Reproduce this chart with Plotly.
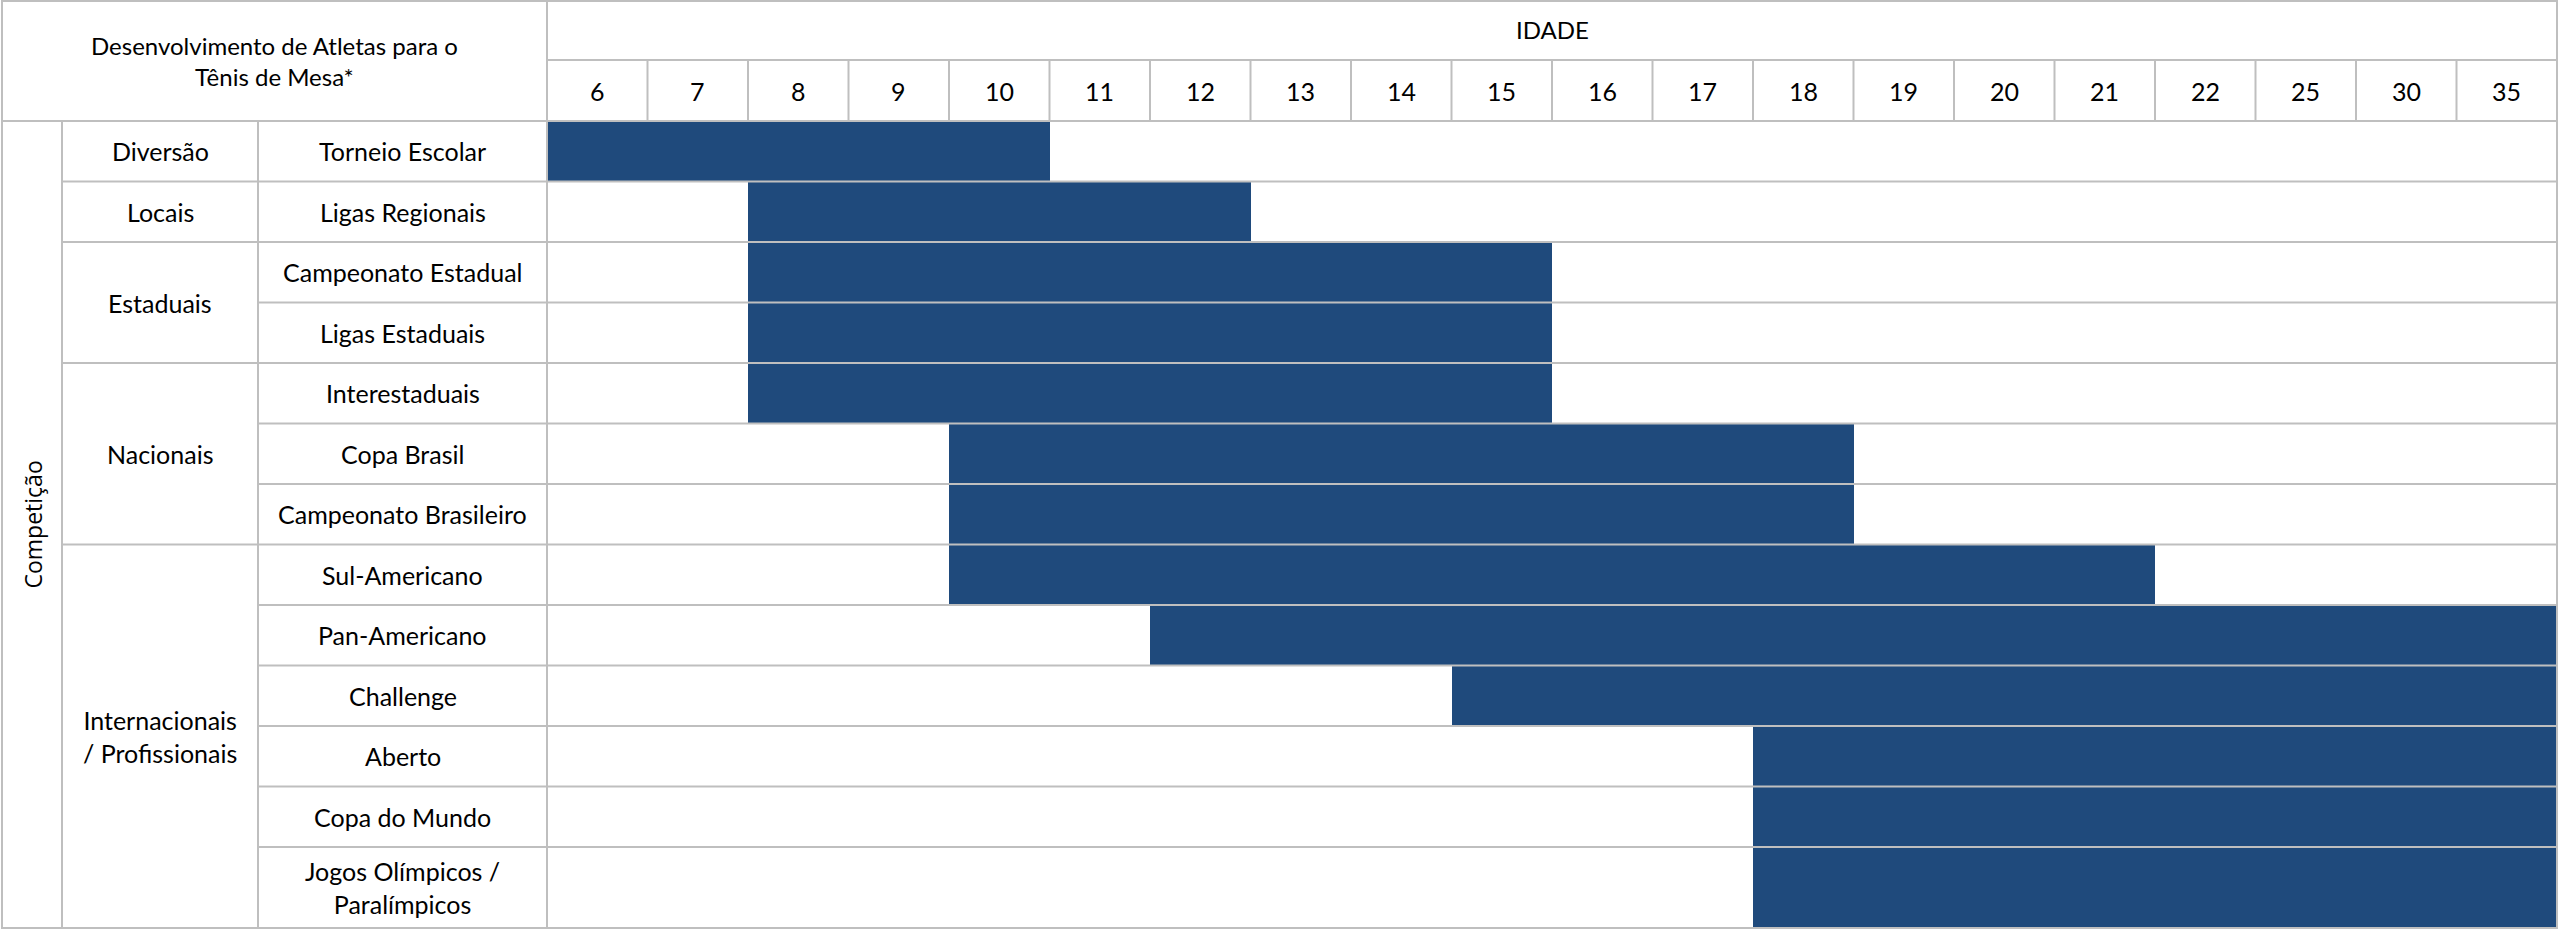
import plotly.graph_objects as go

# ---------------- data ----------------
ages = [6, 7, 8, 9, 10, 11, 12, 13, 14, 15, 16, 17, 18, 19, 20, 21, 22, 25, 30, 35]
competitions = [
    "Torneio Escolar", "Ligas Regionais", "Campeonato Estadual", "Ligas Estaduais",
    "Interestaduais", "Copa Brasil", "Campeonato Brasileiro", "Sul-Americano",
    "Pan-Americano", "Challenge", "Aberto", "Copa do Mundo",
    "Jogos Olímpicos /<br>Paralímpicos",
]
start_age = [6, 8, 8, 8, 8, 10, 10, 10, 12, 15, 18, 18, 18]
end_age = [10, 12, 15, 15, 15, 18, 18, 21, 35, 35, 35, 35, 35]
groups = ["Diversão", "Locais", "Estaduais", "Nacionais", "Internacionais<br>/ Profissionais"]
group_sizes = [1, 1, 2, 3, 6]
header_title = "Desenvolvimento de Atletas para o<br>Tênis de Mesa*"
axis_title = "IDADE"
side_title = "Competição"

# ---------------- layout geometry (pixels) ----------------
W, H = 2560, 929
BODY_TOP, BODY_BOT = 121, 928
X_LEFT, X_C1, X_C2, X_AGE, X_RIGHT = 2, 62, 258, 547, 2557
Y_TOP, Y_MID = 1, 60
row_px = [60.5] * 12 + [81]
GRID = "#bfbfbf"
BAR = "#1F4A7C"
FONT = "Lato"


def px_x(v):
    return v / W


def px_y(v):
    return 1 - v / H


# row boundaries/centers in body pixel units
bounds = [0.0]
for h in row_px:
    bounds.append(bounds[-1] + h)
centers = [(bounds[i] + bounds[i + 1]) / 2 for i in range(len(row_px))]
body_h = bounds[-1]

idx_start = [ages.index(a) for a in start_age]
idx_end = [ages.index(a) for a in end_age]

fig = go.Figure()
fig.add_trace(go.Bar(
    orientation="h",
    y=centers,
    x=[e - s + 1 for s, e in zip(idx_start, idx_end)],
    base=[s - 0.5 for s in idx_start],
    width=row_px,
    marker=dict(color=BAR, line=dict(width=0)),
    hoverinfo="skip",
    showlegend=False,
))

shapes = []


def hline(y_paper, x0, x1):
    shapes.append(dict(type="line", xref="paper", yref="paper", x0=x0, x1=x1,
                       y0=y_paper, y1=y_paper, line=dict(color=GRID, width=2), layer="above"))


def vline(x_paper, y0, y1, xref="paper"):
    shapes.append(dict(type="line", xref=xref, yref="paper", x0=x_paper, x1=x_paper,
                       y0=y0, y1=y1, line=dict(color=GRID, width=2), layer="above"))


# outer / header lines
hline(px_y(Y_TOP), px_x(X_LEFT - 1), px_x(X_RIGHT + 1))
hline(px_y(Y_MID), px_x(X_AGE), px_x(X_RIGHT + 1))
hline(px_y(BODY_TOP), px_x(X_LEFT - 1), px_x(X_RIGHT + 1))
hline(px_y(BODY_BOT), px_x(X_LEFT - 1), px_x(X_RIGHT + 1))
vline(px_x(X_LEFT), px_y(BODY_BOT), px_y(0))
vline(px_x(X_AGE), px_y(BODY_BOT), px_y(0))
vline(px_x(X_RIGHT), px_y(BODY_BOT), px_y(0))
vline(px_x(X_C1), px_y(BODY_BOT), px_y(BODY_TOP))
vline(px_x(X_C2), px_y(BODY_BOT), px_y(BODY_TOP))
# age column separators in header
for i in range(1, len(ages)):
    vline(i - 0.5, px_y(BODY_TOP), px_y(Y_MID), xref="x")
# row lines
group_bounds = set()
acc = 0
for g in group_sizes[:-1]:
    acc += g
    group_bounds.add(acc)
for i in range(1, len(row_px)):
    yv = bounds[i]
    x0 = X_C1 if i in group_bounds else X_C2
    shapes.append(dict(type="line", xref="paper", yref="y", x0=px_x(x0), x1=px_x(X_RIGHT + 1),
                       y0=yv, y1=yv, line=dict(color=GRID, width=2), layer="above"))

annotations = []
tfont = dict(family=FONT, size=25, color="#000000")
hfont = dict(family=FONT, size=24, color="#000000")
annotations.append(dict(xref="paper", yref="paper", x=px_x(X_AGE / 2 + 1), y=px_y(61),
                        text=header_title, showarrow=False, font=hfont,
                        xanchor="center", yanchor="middle", align="center"))
annotations.append(dict(xref="paper", yref="paper", x=px_x((X_AGE + X_RIGHT) / 2), y=px_y(30),
                        text=axis_title, showarrow=False, font=hfont,
                        xanchor="center", yanchor="middle"))
for i, a in enumerate(ages):
    annotations.append(dict(xref="x", yref="paper", x=i, y=px_y(91), text=str(a),
                            showarrow=False, font=tfont, xanchor="center", yanchor="middle"))
for c, name in zip(centers, competitions):
    annotations.append(dict(xref="paper", yref="y", x=px_x((X_C2 + X_AGE) / 2), y=c, text=name,
                            showarrow=False, font=tfont, xanchor="center", yanchor="middle",
                            align="center"))
start = 0
for g, n in zip(groups, group_sizes):
    yc = (bounds[start] + bounds[start + n]) / 2
    annotations.append(dict(xref="paper", yref="y", x=px_x((X_C1 + X_C2) / 2), y=yc, text=g,
                            showarrow=False, font=tfont, xanchor="center", yanchor="middle",
                            align="center"))
    start += n
annotations.append(dict(xref="paper", yref="y", x=px_x((X_LEFT + X_C1) / 2), y=body_h / 2,
                        text=side_title, textangle=-90, showarrow=False,
                        font=dict(family="Open Sans", size=23, color="#000000"),
                        xanchor="center", yanchor="middle"))

fig.update_layout(
    width=W, height=H,
    margin=dict(l=0, r=0, t=0, b=0),
    paper_bgcolor="white", plot_bgcolor="white",
    xaxis=dict(domain=[px_x(X_AGE), px_x(X_RIGHT)], range=[-0.5, len(ages) - 0.5],
               visible=False, fixedrange=True),
    yaxis=dict(domain=[px_y(BODY_BOT), px_y(BODY_TOP)], range=[body_h, 0],
               visible=False, fixedrange=True),
    shapes=shapes,
    annotations=annotations,
    bargap=0,
)

fig.write_html("out.html", config={"displayModeBar": False})
